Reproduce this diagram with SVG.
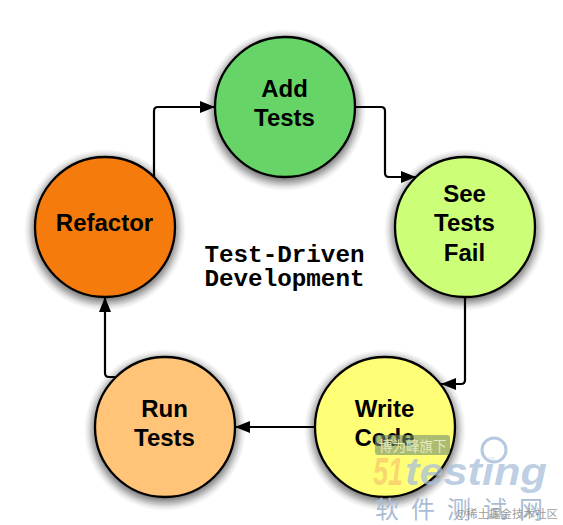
<svg xmlns="http://www.w3.org/2000/svg" width="563" height="525" viewBox="0 0 563 525">
<style>
.n{stroke:#000;stroke-width:2.300}
.l{font:bold 24px "Liberation Sans",Arial,sans-serif;text-anchor:middle;fill:#000}
.c{fill:none;stroke:#000;stroke-width:2.200}
.t{font:bold 24.250px "Liberation Mono","Courier New",monospace;text-anchor:middle;fill:#000}
.cjk{font-family:"Noto Sans CJK SC",sans-serif}
.w{font-family:"Liberation Sans",sans-serif;font-size:38px;font-weight:bold;font-style:italic}
</style>
<defs>
<radialGradient id="sg"><stop offset=".84" stop-color="#000" stop-opacity=".5"/><stop offset=".9" stop-color="#000" stop-opacity=".28"/><stop offset=".95" stop-color="#000" stop-opacity=".1"/><stop offset="1" stop-color="#000" stop-opacity="0"/></radialGradient>
<marker id="a" viewBox="0 0 15 12" markerWidth="15" markerHeight="12" refX="15" refY="6" orient="auto" markerUnits="userSpaceOnUse"><path d="M0 0L15 6L0 12Z" fill="#000"/></marker>
</defs>
<rect width="563" height="525" fill="#fff"/>
<g id="connectors">
<path class="c" d="M154 178V111Q154 107 158 107H215" marker-end="url(#a)"/>
<path class="c" d="M355 107H381Q385 107 385 111V173Q385 177 389 177H416" marker-end="url(#a)"/>
<path class="c" d="M465 297V380Q465 384 461 384H441" marker-end="url(#a)"/>
<path class="c" d="M315 427H235" marker-end="url(#a)"/>
<path class="c" d="M118 377H109Q105 377 105 373V297" marker-end="url(#a)"/>
</g>
<g id="add-tests"><circle cx="285" cy="110" r="81" fill="url(#sg)"/><circle class="n" cx="285" cy="107" r="70" fill="#66d466"/><text class="l" x="284.500" y="97">Add</text><text class="l" x="284.500" y="126">Tests</text></g>
<g id="see-tests-fail"><circle cx="465" cy="230" r="81" fill="url(#sg)"/><circle class="n" cx="465" cy="227" r="70" fill="#ccff77"/><text class="l" x="464.500" y="202">See</text><text class="l" x="464.500" y="231">Tests</text><text class="l" x="464.500" y="261">Fail</text></g>
<g id="write-code"><circle cx="385" cy="430" r="81" fill="url(#sg)"/><circle class="n" cx="385" cy="427" r="70" fill="#ffff77"/><text class="l" x="384.500" y="417">Write</text><text class="l" x="384.500" y="446">Code</text></g>
<g id="run-tests"><circle cx="165" cy="430" r="81" fill="url(#sg)"/><circle class="n" cx="165" cy="427" r="70" fill="#ffc477"/><text class="l" x="164.500" y="417">Run</text><text class="l" x="164.500" y="446">Tests</text></g>
<g id="refactor"><circle cx="105" cy="230" r="81" fill="url(#sg)"/><circle class="n" cx="105" cy="227" r="70" fill="#f47b0c"/><text class="l" x="104.500" y="231">Refactor</text></g>
<g id="title"><text class="t" x="284.500" y="262">Test-Driven</text><text class="t" x="284.500" y="286">Development</text></g>
<g id="watermark">
<rect x="375" y="435" width="75" height="20" rx="3" fill="#6f8f6f" fill-opacity=".6"/>
<text class="cjk" x="379" y="451" font-size="13.500" fill="#e8e8c0">博为峰旗下</text>
<text class="w" x="373" y="485" fill="#f7c46a" fill-opacity=".7" textLength="30" lengthAdjust="spacingAndGlyphs">51</text>
<text class="w" x="405" y="485" fill="#a9c0dc" fill-opacity=".75" textLength="142" lengthAdjust="spacingAndGlyphs">testing</text>
<circle cx="494" cy="450" r="12" fill="#fff" fill-opacity=".7" stroke="#b5c9e0" stroke-width="3"/>
<text class="cjk" x="375" y="518" font-size="24" fill="#a9bcd4" letter-spacing="12">软件测试网</text>
<text class="cjk" x="455" y="518" font-size="11.500" fill="#8a8a8a" fill-opacity=".85">@稀土掘金技术社区</text>
</g>
</svg>
